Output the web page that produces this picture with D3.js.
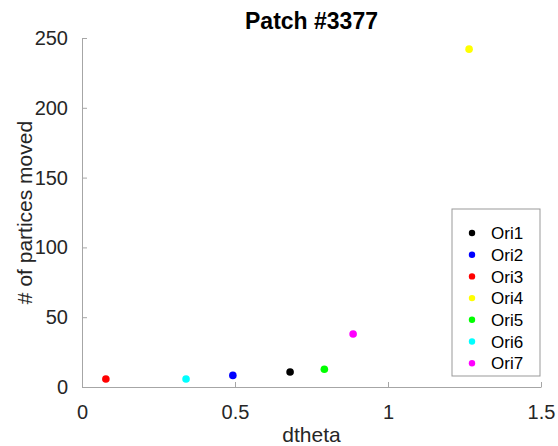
<!DOCTYPE html>
<html>
<head>
<meta charset="utf-8">
<script src="https://cdn.jsdelivr.net/npm/d3@7"></script>
<style>
  html, body { margin: 0; padding: 0; background: #fff; }
  svg { display: block; font-family: "Liberation Sans", Arial, Helvetica, sans-serif; }
</style>
</head>
<body>
<svg id="chart" width="558" height="446"></svg>
<script>
const seriesNames = ["Ori1", "Ori2", "Ori3", "Ori4", "Ori5", "Ori6", "Ori7"];
const dthetaValues = [0.680, 0.493, 0.078, 1.265, 0.792, 0.340, 0.886];
const movedValues = [10.7, 8.3, 5.7, 242, 12.7, 5.7, 38];
const seriesColors = ["#000000", "#0000ff", "#ff0000", "#ffff00", "#00ff00", "#00ffff", "#ff00ff"];
const xTicks = [0, 0.5, 1, 1.5];
const yTicks = [0, 50, 100, 150, 200, 250];
const xTickLabels = ["0", "0.5", "1", "1.5"];
const yTickLabels = ["0", "50", "100", "150", "200", "250"];
const titleText = "Patch #3377";
const xLabelText = "dtheta";
const yLabelText = "# of partices moved";

const svg = d3.select("#chart");
const plotLeft = 82, plotRight = 541, plotTop = 38, plotBottom = 387;

const x = d3.scaleLinear().domain([0, 1.5]).range([plotLeft, plotRight]);
const y = d3.scaleLinear().domain([0, 250]).range([plotBottom, plotTop]);

const axisColor = "#a6a6a6";
const textColor = "#262626";

// X axis (ticks inward)
const xAxis = svg.append("g")
  .attr("transform", `translate(0,${plotBottom})`)
  .call(d3.axisBottom(x).tickValues(xTicks)
    .tickFormat((d, i) => xTickLabels[i])
    .tickSizeInner(-5).tickSizeOuter(0).tickPadding(18));
xAxis.select(".domain").attr("stroke", axisColor);
xAxis.selectAll(".tick line").attr("stroke", axisColor);
xAxis.selectAll(".tick text").attr("fill", textColor).attr("font-size", 20);

// Y axis
const yAxis = svg.append("g")
  .attr("transform", `translate(${plotLeft},0)`)
  .call(d3.axisLeft(y).tickValues(yTicks)
    .tickFormat((d, i) => yTickLabels[i])
    .tickSizeInner(-5).tickSizeOuter(0).tickPadding(14));
yAxis.select(".domain").attr("stroke", axisColor);
yAxis.selectAll(".tick line").attr("stroke", axisColor);
yAxis.selectAll(".tick text").attr("fill", textColor).attr("font-size", 20);

// Title
svg.append("text")
  .attr("x", (plotLeft + plotRight) / 2).attr("y", 29)
  .attr("text-anchor", "middle")
  .attr("font-size", 23).attr("font-weight", "bold")
  .attr("fill", "#000")
  .text(titleText);

// X label
svg.append("text")
  .attr("x", (plotLeft + plotRight) / 2).attr("y", 442)
  .attr("text-anchor", "middle")
  .attr("font-size", 21).attr("fill", textColor)
  .text(xLabelText);

// Y label
svg.append("text")
  .attr("transform", `translate(32,${(plotTop + plotBottom) / 2}) rotate(-90)`)
  .attr("text-anchor", "middle")
  .attr("font-size", 21).attr("fill", textColor)
  .text(yLabelText);

// Points
const pts = seriesNames.map((n, i) => ({ name: n, x: dthetaValues[i], y: movedValues[i], c: seriesColors[i] }));
svg.append("g").selectAll("circle").data(pts).enter().append("circle")
  .attr("cx", d => x(d.x)).attr("cy", d => y(d.y))
  .attr("r", 3.8).attr("fill", d => d.c);

// Legend
const lg = svg.append("g");
const lgX = 452, lgY = 209, lgW = 88, lgH = 167;
lg.append("rect").attr("x", lgX).attr("y", lgY).attr("width", lgW).attr("height", lgH)
  .attr("fill", "#fff").attr("stroke", "#999").attr("stroke-width", 1);
const step = 21.7;
pts.forEach((d, i) => {
  const cy = 233 + i * step;
  lg.append("circle").attr("cx", 472).attr("cy", cy).attr("r", 3.2).attr("fill", d.c);
  lg.append("text").attr("x", 491).attr("y", cy).attr("dy", "0.36em")
    .attr("font-size", 17).attr("fill", "#000").text(d.name);
});
</script>
</body>
</html>
